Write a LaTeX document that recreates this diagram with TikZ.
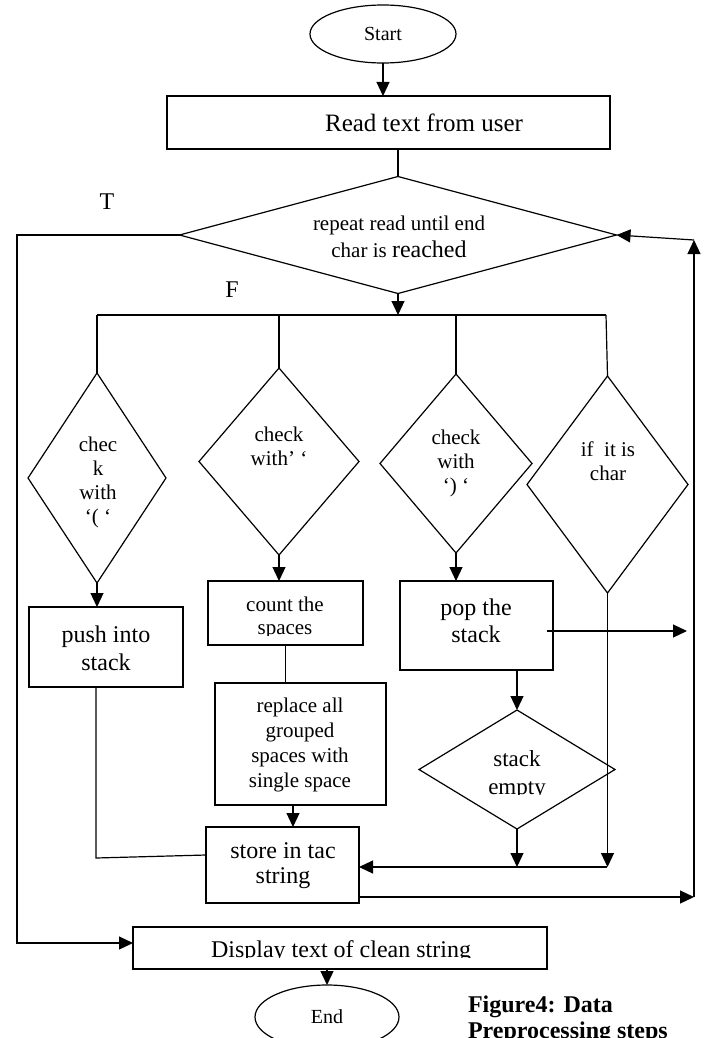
\documentclass[tikz,border=0pt]{standalone}
\usepackage{fontspec}
\setmainfont{Liberation Serif}
\usetikzlibrary{shapes.geometric,arrows.meta,calc}
\begin{document}
\begin{tikzpicture}[x=1pt,y=-1pt,
  line width=1.2pt,
  every node/.style={inner sep=0pt, outer sep=0pt},
  box/.style={draw, rectangle},
  oval/.style={draw, ellipse},
  decision/.style={draw, diamond},
  txt/.style={align=center},
  arr/.style={-{Triangle[length=14pt,width=13pt]}},
  small/.style={font=\fontsize{21}{24}\selectfont},
  large/.style={font=\fontsize{24}{28}\selectfont}
]
\useasboundingbox (0,0) rectangle (706,1038);

% start, input and main loop test
\node[oval, minimum width=146pt, minimum height=58pt, font=\fontsize{20}{24}\selectfont] (start) at (383,34) {Start};
\node[box, minimum width=443pt, minimum height=53pt] (read) at (388.5,122.5) {};
\node[font=\fontsize{25}{28}\selectfont] (readtxt) at (424,123) {Read text from user};

\node[decision, minimum width=437pt, minimum height=117pt] (loop) at (398,235) {};
\node[txt, font=\fontsize{21}{27}\selectfont] (looptxt) at (399,237)
  {repeat read until end\\char is {\fontsize{24}{27}\selectfont reached}};

\node[large] (tlab) at (107,202) {T};
\node[large] (flab) at (232,290) {F};

% branch tests
\node[decision, minimum width=138pt, minimum height=210pt] (d1) at (97,478) {};
\node[txt, small] (d1txt) at (98,482) {chec\\k\\with\\‘( ‘};

\node[decision, minimum width=160pt, minimum height=187pt] (d2) at (279,461.5) {};
\node[txt, small] (d2txt) at (279,446) {check\\with' ‘};

\node[decision, minimum width=152pt, minimum height=179pt] (d3) at (456,463.5) {};
\node[txt, small] (d3txt) at (456,463) {check\\with\\‘) ‘};

\node[decision, minimum width=161pt, minimum height=217pt] (d4) at (607.5,484.5) {};
\node[txt, small] (d4txt) at (608,461) {if\ \ it is\\char};

% actions
\node[box, minimum width=154pt, minimum height=80pt] (push) at (106,647) {};
\node[txt, large] (pushtxt) at (106,648) {push into\\stack};

\node[box, minimum width=155pt, minimum height=64pt] (count) at (285.5,613) {};
\begin{scope}
  \clip (208,581) rectangle (363,635);
  \node[txt, font=\fontsize{21}{23}\selectfont] (counttxt) at (285,618) {count the\\spaces};
\end{scope}

\node[box, minimum width=171pt, minimum height=122pt] (replace) at (300.5,744) {};
\node[txt, font=\fontsize{21}{25}\selectfont] (replacetxt) at (300,745)
  {replace all\\grouped\\spaces with\\single space};

\node[box, minimum width=153pt, minimum height=76pt] (store) at (282.5,865) {};
\node[txt, font=\fontsize{24}{25}\selectfont] (storetxt) at (283,866) {store in tac\\string};

\node[box, minimum width=153pt, minimum height=89pt] (pop) at (476.5,625.5) {};
\node[txt, font=\fontsize{24}{27}\selectfont] (poptxt) at (476,621) {pop the\\stack};

\node[decision, minimum width=196pt, minimum height=119pt] (se) at (517,769.5) {};
\begin{scope}
  \clip (440,740) rectangle (600,794);
  \node[txt, font=\fontsize{23}{28}\selectfont] (setxt) at (517,775) {stack\\empty};
\end{scope}

% output and end
\node[box, minimum width=414pt, minimum height=42pt] (display) at (340,948) {};
\begin{scope}
  \clip (140,930) rectangle (540,957.5);
  \node[anchor=base, font=\fontsize{24}{28}\selectfont] (disptxt) at (341,957) {Display text of clean string};
\end{scope}

\node[oval, minimum width=144pt, minimum height=64pt, font=\fontsize{20}{24}\selectfont] (end) at (327,1017) {End};

\node[anchor=north west, align=left, font=\bfseries\fontsize{24}{26}\selectfont] (cap) at (468,996)
  {Figure4: Data\\Preprocessing steps};

% connector points
\coordinate (tl) at (17,235);
\coordinate (bl) at (17,943);
\coordinate (barL) at (97,315);
\coordinate (barR) at (606,315);
\coordinate (pushdown) at (96,858);
\coordinate (popout) at (687,631);
\coordinate (join) at (607,867);
\coordinate (rb) at (694,897);
\coordinate (rt) at (694,240);

% connectors
\draw[arr] (start.south) -- (start.south |- read.north);
\draw (read.south -| loop.north) -- (loop.north);
\draw[arr] (loop.west) -- (tl) -- (bl) -- (bl -| display.west);
\draw[arr] (loop.south) -- (loop.south |- barL);
\draw (barL) -- (barR);
\draw (barL) -- (d1.north);
\draw (d2.north |- barL) -- (d2.north);
\draw (d3.north |- barL) -- (d3.north);
\draw (barR) -- (d4.north);

\draw[arr] (d1.south) -- (d1.south |- push.north);
\draw[arr] (d2.south) -- (d2.south |- count.north);
\draw[arr] (d3.south) -- (d3.south |- pop.north);
\draw (count.south) -- (count.south |- replace.north);
\draw[arr] ([xshift=-7.5pt]replace.south) -- ([xshift=-7.5pt]replace.south |- store.north);
\draw (push.south -| pushdown) -- (pushdown) -- ([yshift=10pt]store.west);

\draw[arr] ([xshift=-6pt,yshift=-5.5pt]pop.east) -- (popout);
\draw[arr] (pop.south -| se.north) -- (se.north);
\draw[arr] (d4.south) -- (d4.south |- join);
\draw[arr] (se.south) -- (se.south |- join);
\draw[arr] (join) -- (join -| store.east);

\draw[arr] (store.east |- rb) -- (rb);
\draw[arr] (rb) -- (rt);
\draw[arr] (rt) -- (loop.east);

\draw[arr] (end.north |- display.south) -- (end.north);
\end{tikzpicture}
\end{document}
